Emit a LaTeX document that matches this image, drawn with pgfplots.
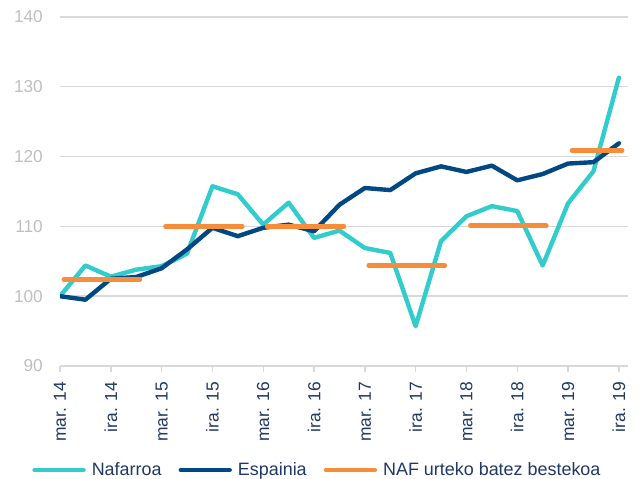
\documentclass[border=0pt]{standalone}
\usepackage{fontspec}
\setmainfont{Liberation Sans}
\usepackage{pgfplots}
\pgfplotsset{compat=1.18}
\definecolor{teal1}{RGB}{51,204,204}
\definecolor{navy1}{RGB}{0,72,132}
\definecolor{orange1}{RGB}{247,140,58}
\definecolor{grid1}{RGB}{217,217,217}
\definecolor{ylab}{RGB}{191,191,191}
\definecolor{xlab}{RGB}{31,56,100}
\begin{document}
\begin{tikzpicture}[x=1bp,y=1bp]
\useasboundingbox (0,0) rectangle (641,479);
\begin{axis}[
  at={(60bp,113bp)}, anchor=south west,
  scale only axis, width=568bp, height=349bp,
  xmin=0, xmax=22.36, ymin=90, ymax=140,
  ytick={90,100,...,140},
  xtick={0,2,...,22},
  xticklabels={mar. 14,ira. 14,mar. 15,ira. 15,mar. 16,ira. 16,mar. 17,ira. 17,mar. 18,ira. 18,mar. 19,ira. 19},
  axis line style={draw=none},
  ymajorgrids, grid style={grid1, line width=1.4bp},
  tick pos=bottom,
  ytick style={draw=none},
  xtick style={grid1, line width=1.4bp},
  xtick align=outside, major tick length=6bp,
  /pgf/number format/assume math mode=true,
  yticklabel style={text=ylab, inner sep=0pt, anchor=east, xshift=-17bp, font=\fontsize{17.3}{19}\selectfont},
  xticklabel style={text=xlab, inner sep=0pt, anchor=east, yshift=-10bp, rotate=90, font=\fontsize{17.5}{19}\selectfont},
  legend columns=3,
  legend cell align=left,
  legend style={at={(axis description cs:-0.049,-0.298)}, anchor=west, draw=none, fill=none,
    font=\fontsize{18}{20}\selectfont, text=xlab, inner sep=0pt,
    nodes={inner sep=0pt},
    /tikz/every odd column/.append style={column sep=6bp},
    /tikz/every even column/.append style={column sep=17bp}},
  legend image code/.code={\draw[#1, line cap=round] (0bp,0bp) -- (49bp,0bp);},
  every axis plot/.append style={line width=4.4bp, line cap=round, line join=round},
  unbounded coords=jump,
]
\addplot[teal1] coordinates {
(0,100) (1,104.4) (2,102.8) (3,103.8) (4,104.3) (5,106.1) (6,115.75) (7,114.6)
(8,110.25) (9,113.4) (10,108.35) (11,109.4) (12,106.9) (13,106.2) (14,95.7) (15,107.9)
(16,111.45) (17,112.9) (18,112.2) (19,104.4) (20,113.3) (21,117.9) (22,131.3)};
\addlegendentry{Nafarroa}
\addplot[navy1] coordinates {
(0,100) (1,99.5) (2,102.5) (3,102.75) (4,104.0) (5,106.7) (6,109.8) (7,108.6)
(8,109.8) (9,110.25) (10,109.3) (11,113.1) (12,115.5) (13,115.2) (14,117.6) (15,118.6)
(16,117.8) (17,118.7) (18,116.6) (19,117.5) (20,119.0) (21,119.2) (22,121.9)};
\addlegendentry{Espainia}
\addplot[orange1] table[row sep=\\] {
x y\\
0.15 102.4\\ 3.15 102.4\\ 3.5 nan\\
4.15 110\\ 7.18 110\\ 7.5 nan\\
8.15 110\\ 11.18 110\\ 11.5 nan\\
12.15 104.4\\ 15.15 104.4\\ 15.5 nan\\
16.15 110.1\\ 19.15 110.1\\ 19.5 nan\\
20.15 120.9\\ 22.13 120.9\\
};
\addlegendentry{NAF urteko batez bestekoa}
\end{axis}
\end{tikzpicture}
\end{document}
